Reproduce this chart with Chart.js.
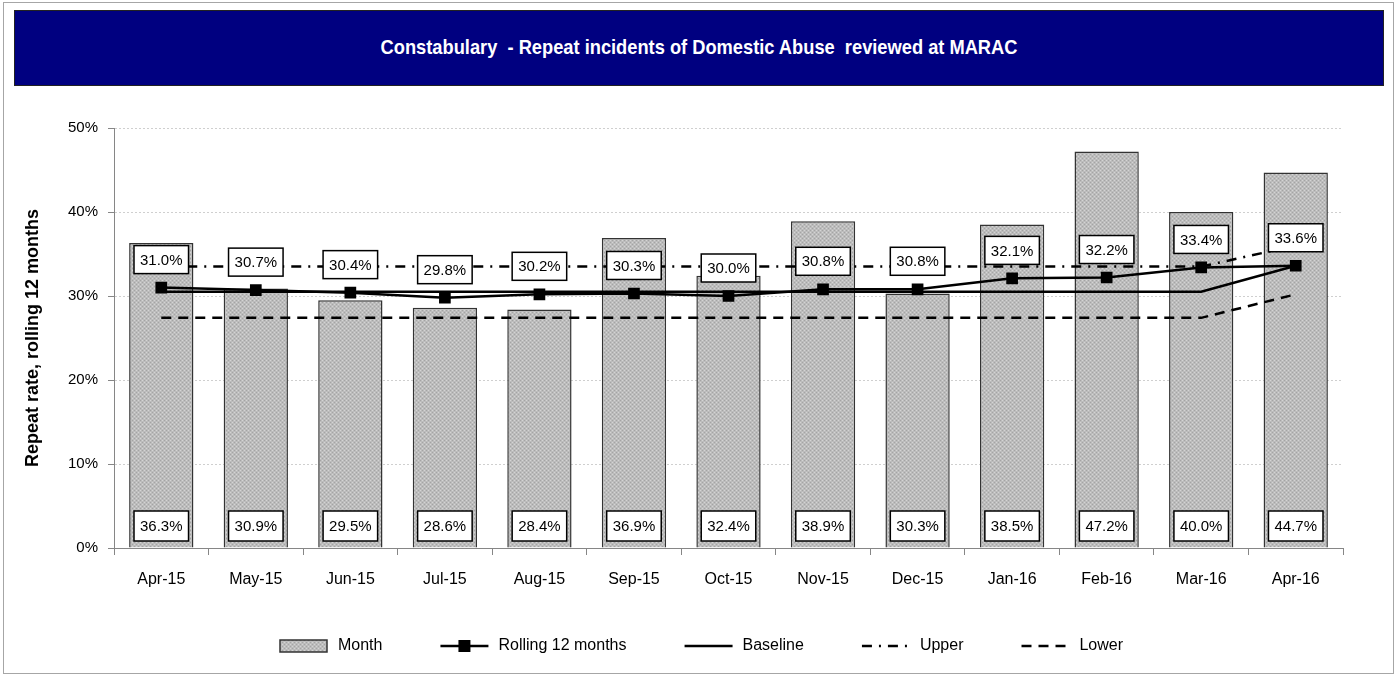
<!DOCTYPE html>
<html>
<head>
<meta charset="utf-8">
<script src="https://cdn.jsdelivr.net/npm/chart.js@4/dist/chart.umd.min.js"></script>
<style>
  html, body { margin: 0; padding: 0; background: #fff; }
  #wrap { position: relative; width: 1397px; height: 675px; overflow: hidden; }
  #frame { position: absolute; left: 3px; top: 2px; width: 1389px; height: 670px; border: 1px solid #a6a6a6; }
  #title {
    position: absolute; left: 14px; top: 10px; width: 1368px; height: 74px;
    border: 1px solid #222; background: #000080; color: #fff;
    text-align: center; line-height: 76px;
  }
  #title span {
    display: inline-block; white-space: pre;
    font: bold 21px "Liberation Sans", Arial, sans-serif;
    transform: scaleX(0.87);
  }
  #chart { position: absolute; left: 0; top: 0; }
</style>
</head>
<body>
<div id="wrap">
  <div id="frame"></div>
  <canvas id="chart" width="1397" height="675"></canvas>
  <div id="title"><span>Constabulary  - Repeat incidents of Domestic Abuse  reviewed at MARAC</span></div>
</div>
<script>
const months = ["Apr-15", "May-15", "Jun-15", "Jul-15", "Aug-15", "Sep-15", "Oct-15",
    "Nov-15", "Dec-15", "Jan-16", "Feb-16", "Mar-16", "Apr-16"];
const monthRate = [36.3, 30.9, 29.5, 28.6, 28.4, 36.9, 32.4, 38.9, 30.3, 38.5, 47.2, 40.0, 44.7];
const rolling12 = [31.0, 30.7, 30.4, 29.8, 30.2, 30.3, 30.0, 30.8, 30.8, 32.1, 32.2, 33.4, 33.6];
const baseline = [30.5, 30.5, 30.5, 30.5, 30.5, 30.5, 30.5, 30.5, 30.5, 30.5, 30.5, 30.5, 33.6];
const upper = [33.5, 33.5, 33.5, 33.5, 33.5, 33.5, 33.5, 33.5, 33.5, 33.5, 33.5, 33.5, 36.0];
const lower = [27.4, 27.4, 27.4, 27.4, 27.4, 27.4, 27.4, 27.4, 27.4, 27.4, 27.4, 27.4, 30.2];
const yTicks = [0, 10, 20, 30, 40, 50];

const FONT = "'Liberation Sans', Arial, sans-serif";

// stippled grey fill like the excel bars
function makePattern() {
    let c = document.createElement("canvas");
    c.width = 4; c.height = 4;
    let g = c.getContext("2d");
    g.fillStyle = "#bcbcbc";
    g.fillRect(0, 0, 4, 4);
    g.fillStyle = "#a4a4a4";
    g.fillRect(0, 0, 1, 1);
    g.fillRect(2, 2, 1, 1);
    g.fillStyle = "#d4d4d4";
    g.fillRect(2, 0, 1, 1);
    g.fillRect(0, 2, 1, 1);
    return g.createPattern(c, "repeat");
}
const barFill = makePattern();

// legend icons: empty space on the left gives the wide gaps between items
const ICON_GAP = 36;
function legendIcon(kind) {
    let c = document.createElement("canvas");
    c.width = ICON_GAP + 52; c.height = 16;
    let g = c.getContext("2d");
    g.translate(ICON_GAP, 0);
    if (kind === "bar") {
        g.fillStyle = barFill;
        g.fillRect(2, 2, 47, 12);
        g.strokeStyle = "#333";
        g.lineWidth = 1.5;
        g.strokeRect(2, 2, 47, 12);
        return c;
    }
    g.strokeStyle = "#000";
    g.lineWidth = 2.5;
    if (kind === "upper") g.setLineDash([10, 7, 2, 7]);
    if (kind === "lower") g.setLineDash([10, 7]);
    g.beginPath();
    g.moveTo(2, 8);
    g.lineTo(50, 8);
    g.stroke();
    if (kind === "rolling") {
        g.fillStyle = "#000";
        g.fillRect(20, 2, 12, 12);
    }
    return c;
}

const legendItems = [
    { text: "Month", icon: legendIcon("bar"), ds: 0 },
    { text: "Rolling 12 months", icon: legendIcon("rolling"), ds: 1 },
    { text: "Baseline", icon: legendIcon("line"), ds: 2 },
    { text: "Upper", icon: legendIcon("upper"), ds: 3 },
    { text: "Lower", icon: legendIcon("lower"), ds: 4 }
];

function drawBox(ctx, text, cx, top, h) {
    let w = ctx.measureText(text).width + 12;
    ctx.fillStyle = "#fff";
    ctx.fillRect(cx - w / 2, top, w, h);
    ctx.strokeStyle = "#000";
    ctx.lineWidth = 1.5;
    ctx.strokeRect(cx - w / 2, top, w, h);
    ctx.fillStyle = "#000";
    ctx.fillText(text, cx, top + h / 2 + 1);
}

const valueLabels = {
    id: "valueLabels",
    afterDatasetsDraw(chart) {
        let ctx = chart.ctx;
        let yScale = chart.scales.y;
        ctx.save();
        ctx.font = "15px " + FONT;
        ctx.textAlign = "center";
        ctx.textBaseline = "middle";
        let zero = yScale.getPixelForValue(0);
        chart.getDatasetMeta(0).data.forEach(function (bar, i) {
            drawBox(ctx, monthRate[i].toFixed(1) + "%", bar.x, zero - 37, 30);
        });
        chart.getDatasetMeta(1).data.forEach(function (pt, i) {
            drawBox(ctx, rolling12[i].toFixed(1) + "%", pt.x, pt.y - 42, 28);
        });
        ctx.restore();
    }
};

let ctx = document.getElementById("chart").getContext("2d");

let myChart = new Chart(ctx, {
    data: {
        labels: months,
        datasets: [{
            type: "bar",
            label: "Month",
            data: monthRate,
            backgroundColor: barFill,
            borderColor: "#333",
            borderWidth: 1.5,
            barPercentage: 0.68,
            categoryPercentage: 1,
            order: 5
        }, {
            type: "line",
            label: "Rolling 12 months",
            data: rolling12,
            borderColor: "#000",
            backgroundColor: "#000",
            borderWidth: 2.5,
            pointStyle: "rect",
            pointRadius: 6.5,
            pointBackgroundColor: "#000",
            tension: 0,
            order: 1
        }, {
            type: "line",
            label: "Baseline",
            data: baseline,
            borderColor: "#000",
            borderWidth: 2.5,
            pointRadius: 0,
            order: 2
        }, {
            type: "line",
            label: "Upper",
            data: upper,
            borderColor: "#000",
            borderWidth: 2.5,
            borderDash: [10, 7, 2, 7],
            pointRadius: 0,
            order: 3
        }, {
            type: "line",
            label: "Lower",
            data: lower,
            borderColor: "#000",
            borderWidth: 2.5,
            borderDash: [10, 7],
            pointRadius: 0,
            order: 4
        }]
    },
    options: {
        responsive: false,
        animation: false,
        layout: { padding: { left: 22, right: 54, top: 128, bottom: 11 } },
        plugins: {
            tooltip: { enabled: false },
            title: { display: false },
            legend: {
                position: "bottom",
                labels: {
                    usePointStyle: true,
                    pointStyleWidth: ICON_GAP + 52,
                    padding: 20,
                    color: "#000",
                    font: { family: FONT, size: 16 },
                    generateLabels: function () {
                        return legendItems.map(function (it) {
                            return {
                                text: it.text,
                                pointStyle: it.icon,
                                datasetIndex: it.ds,
                                fontColor: "#000",
                                hidden: false,
                                lineWidth: 0
                            };
                        });
                    }
                }
            }
        },
        scales: {
            x: {
                offset: true,
                grid: {
                    offset: true,
                    drawOnChartArea: false,
                    tickLength: 7,
                    tickColor: "#868686"
                },
                border: { color: "#868686", width: 1 },
                ticks: {
                    color: "#000",
                    padding: 15,
                    maxRotation: 0,
                    font: { family: FONT, size: 16 }
                },
                afterFit: function (scale) { scale.height = 70; }
            },
            y: {
                min: 0,
                max: 50,
                afterBuildTicks: function (scale) {
                    scale.ticks = yTicks.map(function (v) { return { value: v }; });
                },
                grid: {
                    color: "#cfcfcf",
                    tickLength: 6,
                    tickColor: "#868686",
                    tickBorderDash: []
                },
                border: { color: "#868686", width: 1, dash: [2, 2] },
                ticks: {
                    color: "#000",
                    padding: 10,
                    font: { family: FONT, size: 15 },
                    callback: function (v) { return v + "%"; }
                },
                title: {
                    display: true,
                    text: "Repeat rate, rolling 12 months",
                    color: "#000",
                    padding: 0,
                    font: { family: FONT, size: 18, weight: "bold" }
                },
                afterFit: function (scale) { scale.width = 92; }
            }
        }
    },
    plugins: [valueLabels]
});
</script>
</body>
</html>
